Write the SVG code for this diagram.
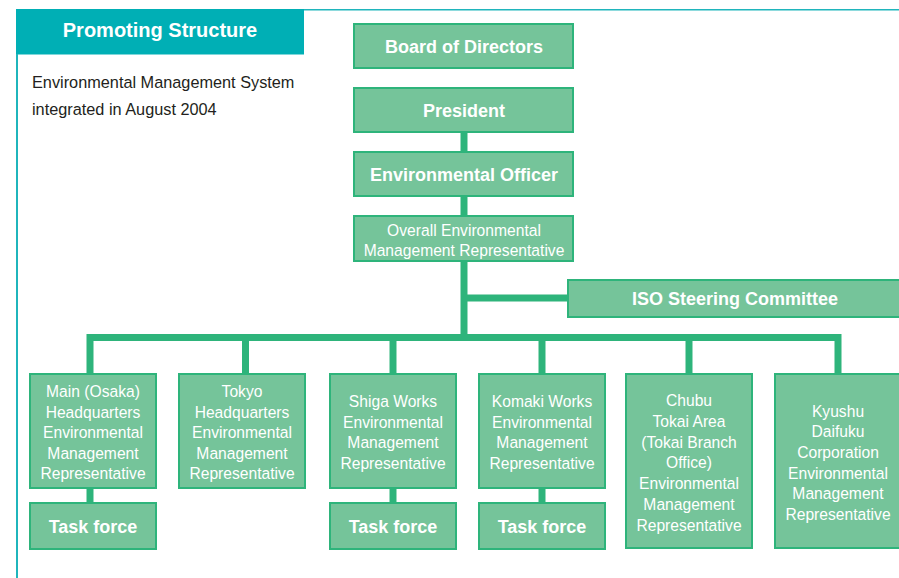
<svg xmlns="http://www.w3.org/2000/svg" width="899" height="578" viewBox="0 0 899 578">
<style>
  .box { fill: #75C49A; stroke: #2EB47B; stroke-width: 2; }
  .conn { fill: none; stroke: #2EB47B; stroke-width: 7; stroke-linecap: butt; stroke-linejoin: miter; }
  .lbl { font-family: "Liberation Sans", Arial, sans-serif; font-size: 18px; font-weight: bold; fill: #FFFFFF; text-anchor: middle; }
  .sm { font-family: "Liberation Sans", Arial, sans-serif; font-size: 17px; fill: #FFFFFF; text-anchor: middle; }
  .desc { font-family: "Liberation Sans", Arial, sans-serif; font-size: 16.3px; fill: #231F20; }
</style>
<rect x="0" y="0" width="899" height="578" fill="#FFFFFF"/>
<g id="frame">
  <rect x="16" y="9" width="288" height="45.5" fill="#00AFB5"/>
  <rect x="304" y="9" width="595" height="1.5" fill="#1FB5BC"/>
  <rect x="16" y="54" width="2" height="524" fill="#1FB5BC"/>
  <text x="160" y="37" font-family="'Liberation Sans', Arial, sans-serif" font-size="20" font-weight="bold" fill="#FFFFFF" text-anchor="middle">Promoting Structure</text>
  <text class="desc" x="32" y="88">Environmental Management System</text>
  <text class="desc" x="32" y="115">integrated in August 2004</text>
</g>
<g id="connectors">
  <path class="conn" d="M464 133 V151"/>
  <path class="conn" d="M464 197 V215"/>
  <path class="conn" d="M464 262 V337.5"/>
  <path class="conn" d="M464 298 H567"/>
  <path class="conn" d="M90 373 V337.5 H838 V373"/>
  <path class="conn" d="M245.5 337.5 V373"/>
  <path class="conn" d="M393 337.5 V373"/>
  <path class="conn" d="M542 337.5 V373"/>
  <path class="conn" d="M689 337.5 V373"/>
  <path class="conn" d="M90 489 V502"/>
  <path class="conn" d="M393 489 V502"/>
  <path class="conn" d="M542 489 V502"/>
</g>
<g id="board">
  <rect class="box" x="354" y="24" width="219" height="44"/>
  <text class="lbl" x="464" y="53">Board of Directors</text>
</g>
<g id="president">
  <rect class="box" x="354" y="88" width="219" height="44"/>
  <text class="lbl" x="464" y="117">President</text>
</g>
<g id="env-officer">
  <rect class="box" x="354" y="152" width="219" height="44"/>
  <text class="lbl" x="464" y="181">Environmental Officer</text>
</g>
<g id="overall-rep">
  <rect class="box" x="354" y="216" width="219" height="45"/>
  <text class="sm" transform="translate(464 0) scale(0.92 1)"><tspan x="0" y="236">Overall Environmental</tspan><tspan x="0" y="256">Management Representative</tspan></text>
</g>
<g id="iso">
  <rect class="box" x="568" y="280" width="345" height="37"/>
  <text class="lbl" x="735" y="305">ISO Steering Committee</text>
</g>
<g id="main-hq">
  <rect class="box" x="30" y="374" width="126" height="114"/>
  <text class="sm" transform="translate(93 0) scale(0.92 1)"><tspan x="0" y="397">Main (Osaka)</tspan><tspan x="0" y="417.8">Headquarters</tspan><tspan x="0" y="438.3">Environmental</tspan><tspan x="0" y="458.8">Management</tspan><tspan x="0" y="479.3">Representative</tspan></text>
</g>
<g id="tokyo-hq">
  <rect class="box" x="179" y="374" width="126" height="114"/>
  <text class="sm" transform="translate(242 0) scale(0.92 1)"><tspan x="0" y="397">Tokyo</tspan><tspan x="0" y="417.8">Headquarters</tspan><tspan x="0" y="438.3">Environmental</tspan><tspan x="0" y="458.8">Management</tspan><tspan x="0" y="479.3">Representative</tspan></text>
</g>
<g id="shiga">
  <rect class="box" x="330" y="374" width="126" height="114"/>
  <text class="sm" transform="translate(393 0) scale(0.92 1)"><tspan x="0" y="407.5">Shiga Works</tspan><tspan x="0" y="428">Environmental</tspan><tspan x="0" y="448.5">Management</tspan><tspan x="0" y="469">Representative</tspan></text>
</g>
<g id="komaki">
  <rect class="box" x="479" y="374" width="126" height="114"/>
  <text class="sm" transform="translate(542 0) scale(0.92 1)"><tspan x="0" y="407.5">Komaki Works</tspan><tspan x="0" y="428">Environmental</tspan><tspan x="0" y="448.5">Management</tspan><tspan x="0" y="469">Representative</tspan></text>
</g>
<g id="chubu">
  <rect class="box" x="626" y="374" width="126" height="174"/>
  <text class="sm" transform="translate(689 0) scale(0.92 1)"><tspan x="0" y="406">Chubu</tspan><tspan x="0" y="426.8">Tokai Area</tspan><tspan x="0" y="447.6">(Tokai Branch</tspan><tspan x="0" y="468.4">Office)</tspan><tspan x="0" y="489.2">Environmental</tspan><tspan x="0" y="510">Management</tspan><tspan x="0" y="530.8">Representative</tspan></text>
</g>
<g id="kyushu">
  <rect class="box" x="775" y="374" width="126" height="174"/>
  <text class="sm" transform="translate(838 0) scale(0.92 1)"><tspan x="0" y="416.7">Kyushu</tspan><tspan x="0" y="437.4">Daifuku</tspan><tspan x="0" y="458.1">Corporation</tspan><tspan x="0" y="478.8">Environmental</tspan><tspan x="0" y="499.5">Management</tspan><tspan x="0" y="520.2">Representative</tspan></text>
</g>
<g id="task-main">
  <rect class="box" x="30" y="503" width="126" height="46"/>
  <text class="lbl" x="93" y="532.5">Task force</text>
</g>
<g id="task-shiga">
  <rect class="box" x="330" y="503" width="126" height="46"/>
  <text class="lbl" x="393" y="532.5">Task force</text>
</g>
<g id="task-komaki">
  <rect class="box" x="479" y="503" width="126" height="46"/>
  <text class="lbl" x="542" y="532.5">Task force</text>
</g>
</svg>
